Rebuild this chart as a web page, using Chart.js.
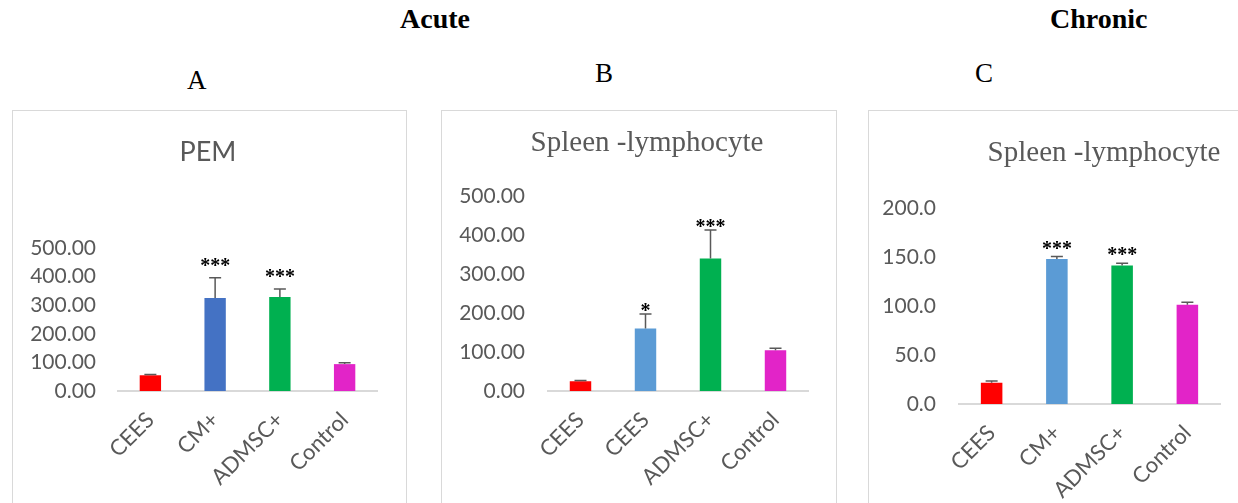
<!DOCTYPE html>
<html>
<head>
<meta charset="utf-8">
<script src="https://cdn.jsdelivr.net/npm/chart.js@4/dist/chart.umd.min.js"></script>
<style>
  body { margin: 0; width: 1238px; height: 503px; background: #fff; overflow: hidden; position: relative; }
  .hdr { position: absolute; font-family: "Liberation Serif", serif; color: #000; white-space: nowrap; }
  .bold { font-weight: bold; font-size: 28px; }
  .letter { font-size: 27px; }
  .panel { position: absolute; border: 1px solid #d9d9d9; box-sizing: border-box; overflow: hidden; background: #fff; }
  .panel canvas { position: absolute; left: 0; top: 0; }
</style>
</head>
<body>
<div class="hdr bold" style="left:400px;top:3px;">Acute</div>
<div class="hdr bold" style="left:1050px;top:3px;">Chronic</div>
<div class="hdr letter" style="left:187px;top:65px;">A</div>
<div class="hdr letter" style="left:595px;top:58px;">B</div>
<div class="hdr letter" style="left:975px;top:58px;">C</div>

<div class="panel" style="left:12px;top:110px;width:395px;height:400px;"><canvas id="chartA" width="393" height="392"></canvas></div>
<div class="panel" style="left:441px;top:110px;width:396px;height:400px;"><canvas id="chartB" width="394" height="392"></canvas></div>
<div class="panel" style="left:868px;top:110px;width:400px;height:400px;"><canvas id="chartC" width="398" height="392"></canvas></div>

<script>
// panel A - PEM (acute)
const categoriesA = ["CEES", "CM+", "ADMSC+", "Control"];
const meansA = [55, 325, 329, 94];
const errorsA = [3, 71, 28, 5];
const sigA = ["", "***", "***", ""];

// panel B - spleen lymphocyte (acute)
const categoriesB = ["CEES", "CEES", "ADMSC+", "Control"];
const meansB = [25, 161, 341, 105];
const errorsB = [2, 37, 73, 5];
const sigB = ["", "*", "***", ""];

// panel C - spleen lymphocyte (chronic)
const categoriesC = ["CEES", "CM+", "ADMSC+", "Control"];
const meansC = [21.8, 148.3, 141.5, 101.4];
const errorsC = [1.7, 2.4, 2.4, 2.6];
const sigC = ["", "***", "***", ""];

const grey = "#595959";

// chart title placed like the excel one (off-centre)
const panelTitle = {
  id: "panelTitle",
  afterDraw(chart, args, opts) {
    const ctx = chart.ctx;
    ctx.save();
    ctx.fillStyle = grey;
    ctx.font = opts.font;
    ctx.textAlign = "center";
    ctx.textBaseline = "middle";
    ctx.fillText(opts.text, opts.x, opts.y);
    ctx.restore();
  }
};

// draws the upper error bar and the star label of each bar
const errorBars = {
  id: "errorBars",
  afterDatasetsDraw(chart, args, opts) {
    const ctx = chart.ctx;
    const yScale = chart.scales.y;
    const values = chart.data.datasets[0].data;
    chart.getDatasetMeta(0).data.forEach((bar, i) => {
      const base = yScale.getPixelForValue(values[i]);
      const top = yScale.getPixelForValue(values[i] + opts.errors[i]);
      ctx.save();
      ctx.strokeStyle = grey;
      ctx.lineWidth = 1.5;
      ctx.beginPath();
      ctx.moveTo(bar.x, base);
      ctx.lineTo(bar.x, top);
      ctx.moveTo(bar.x - 6, top);
      ctx.lineTo(bar.x + 6, top);
      ctx.stroke();
      if (opts.sig[i]) {
        ctx.fillStyle = "#000";
        ctx.font = opts.starFont;
        ctx.textAlign = "center";
        ctx.textBaseline = "alphabetic";
        ctx.fillText(opts.sig[i], bar.x, top - opts.starGap[i]);
      }
      ctx.restore();
    });
  }
};

function makeChart(id, cfg) {
  return new Chart(document.getElementById(id), {
    type: "bar",
    data: {
      labels: cfg.labels,
      datasets: [{
        data: cfg.values,
        backgroundColor: cfg.colors,
        barPercentage: 0.33,
        categoryPercentage: 1
      }]
    },
    plugins: [errorBars, panelTitle],
    options: {
      responsive: false,
      devicePixelRatio: 1,
      animation: false,
      layout: { padding: { left: 0, right: cfg.padRight, top: cfg.padTop, bottom: 0 } },
      plugins: {
        legend: { display: false },
        tooltip: { enabled: false },
        title: { display: false },
        panelTitle: { text: cfg.title, font: cfg.titleFont, x: cfg.titleX, y: cfg.titleY },
        errorBars: {
          errors: cfg.errors,
          sig: cfg.sig,
          starFont: cfg.starFont,
          starGap: cfg.starGap
        }
      },
      scales: {
        x: {
          grid: { display: false },
          border: { display: true, color: "#d9d9d9", width: 2 },
          ticks: {
            color: grey,
            font: { family: "Lato", size: 22 },
            minRotation: 45,
            maxRotation: 45,
            padding: 8
          },
          afterFit: s => { s.height = cfg.xHeight; }
        },
        y: {
          min: 0,
          max: cfg.max,
          grid: { display: false },
          border: { display: false },
          ticks: {
            stepSize: cfg.step,
            color: grey,
            font: { family: "Lato", size: 21 },
            padding: cfg.yPad,
            callback: v => v.toFixed(cfg.decimals)
          },
          afterFit: s => { s.width = cfg.yWidth; }
        }
      }
    }
  });
}

makeChart("chartA", {
  labels: categoriesA, values: meansA, errors: errorsA, sig: sigA,
  colors: ["#ff0000", "#4472c4", "#00b050", "#e224c8"],
  title: "PEM", titleFont: "27px Lato", titleX: 195, titleY: 41.5,
  max: 500, step: 100, decimals: 2,
  padTop: 137, yWidth: 105, yPad: 14, xHeight: 112, padRight: 29,
  starFont: "bold 20px 'Liberation Serif'", starGap: [0, 6, 6, 0]
});

makeChart("chartB", {
  labels: categoriesB, values: meansB, errors: errorsB, sig: sigB,
  colors: ["#ff0000", "#5b9bd5", "#00b050", "#e224c8"],
  title: "Spleen -lymphocyte", titleFont: "29px 'Liberation Serif'", titleX: 205, titleY: 32.5,
  max: 500, step: 100, decimals: 2,
  padTop: 85.7, yWidth: 106, yPad: 15, xHeight: 112, padRight: 28,
  starFont: "bold 20px 'Liberation Serif'", starGap: [0, -3, -3, 0]
});

makeChart("chartC", {
  labels: categoriesC, values: meansC, errors: errorsC, sig: sigC,
  colors: ["#ff0000", "#5b9bd5", "#00b050", "#e224c8"],
  title: "Spleen -lymphocyte", titleFont: "29px 'Liberation Serif'", titleX: 235, titleY: 42.7,
  max: 200, step: 50, decimals: 1,
  padTop: 97.3, yWidth: 90, yPad: 15, xHeight: 99, padRight: 47,
  starFont: "bold 20px 'Liberation Serif'", starGap: [0, 2, 2, 0]
});
</script>
</body>
</html>
